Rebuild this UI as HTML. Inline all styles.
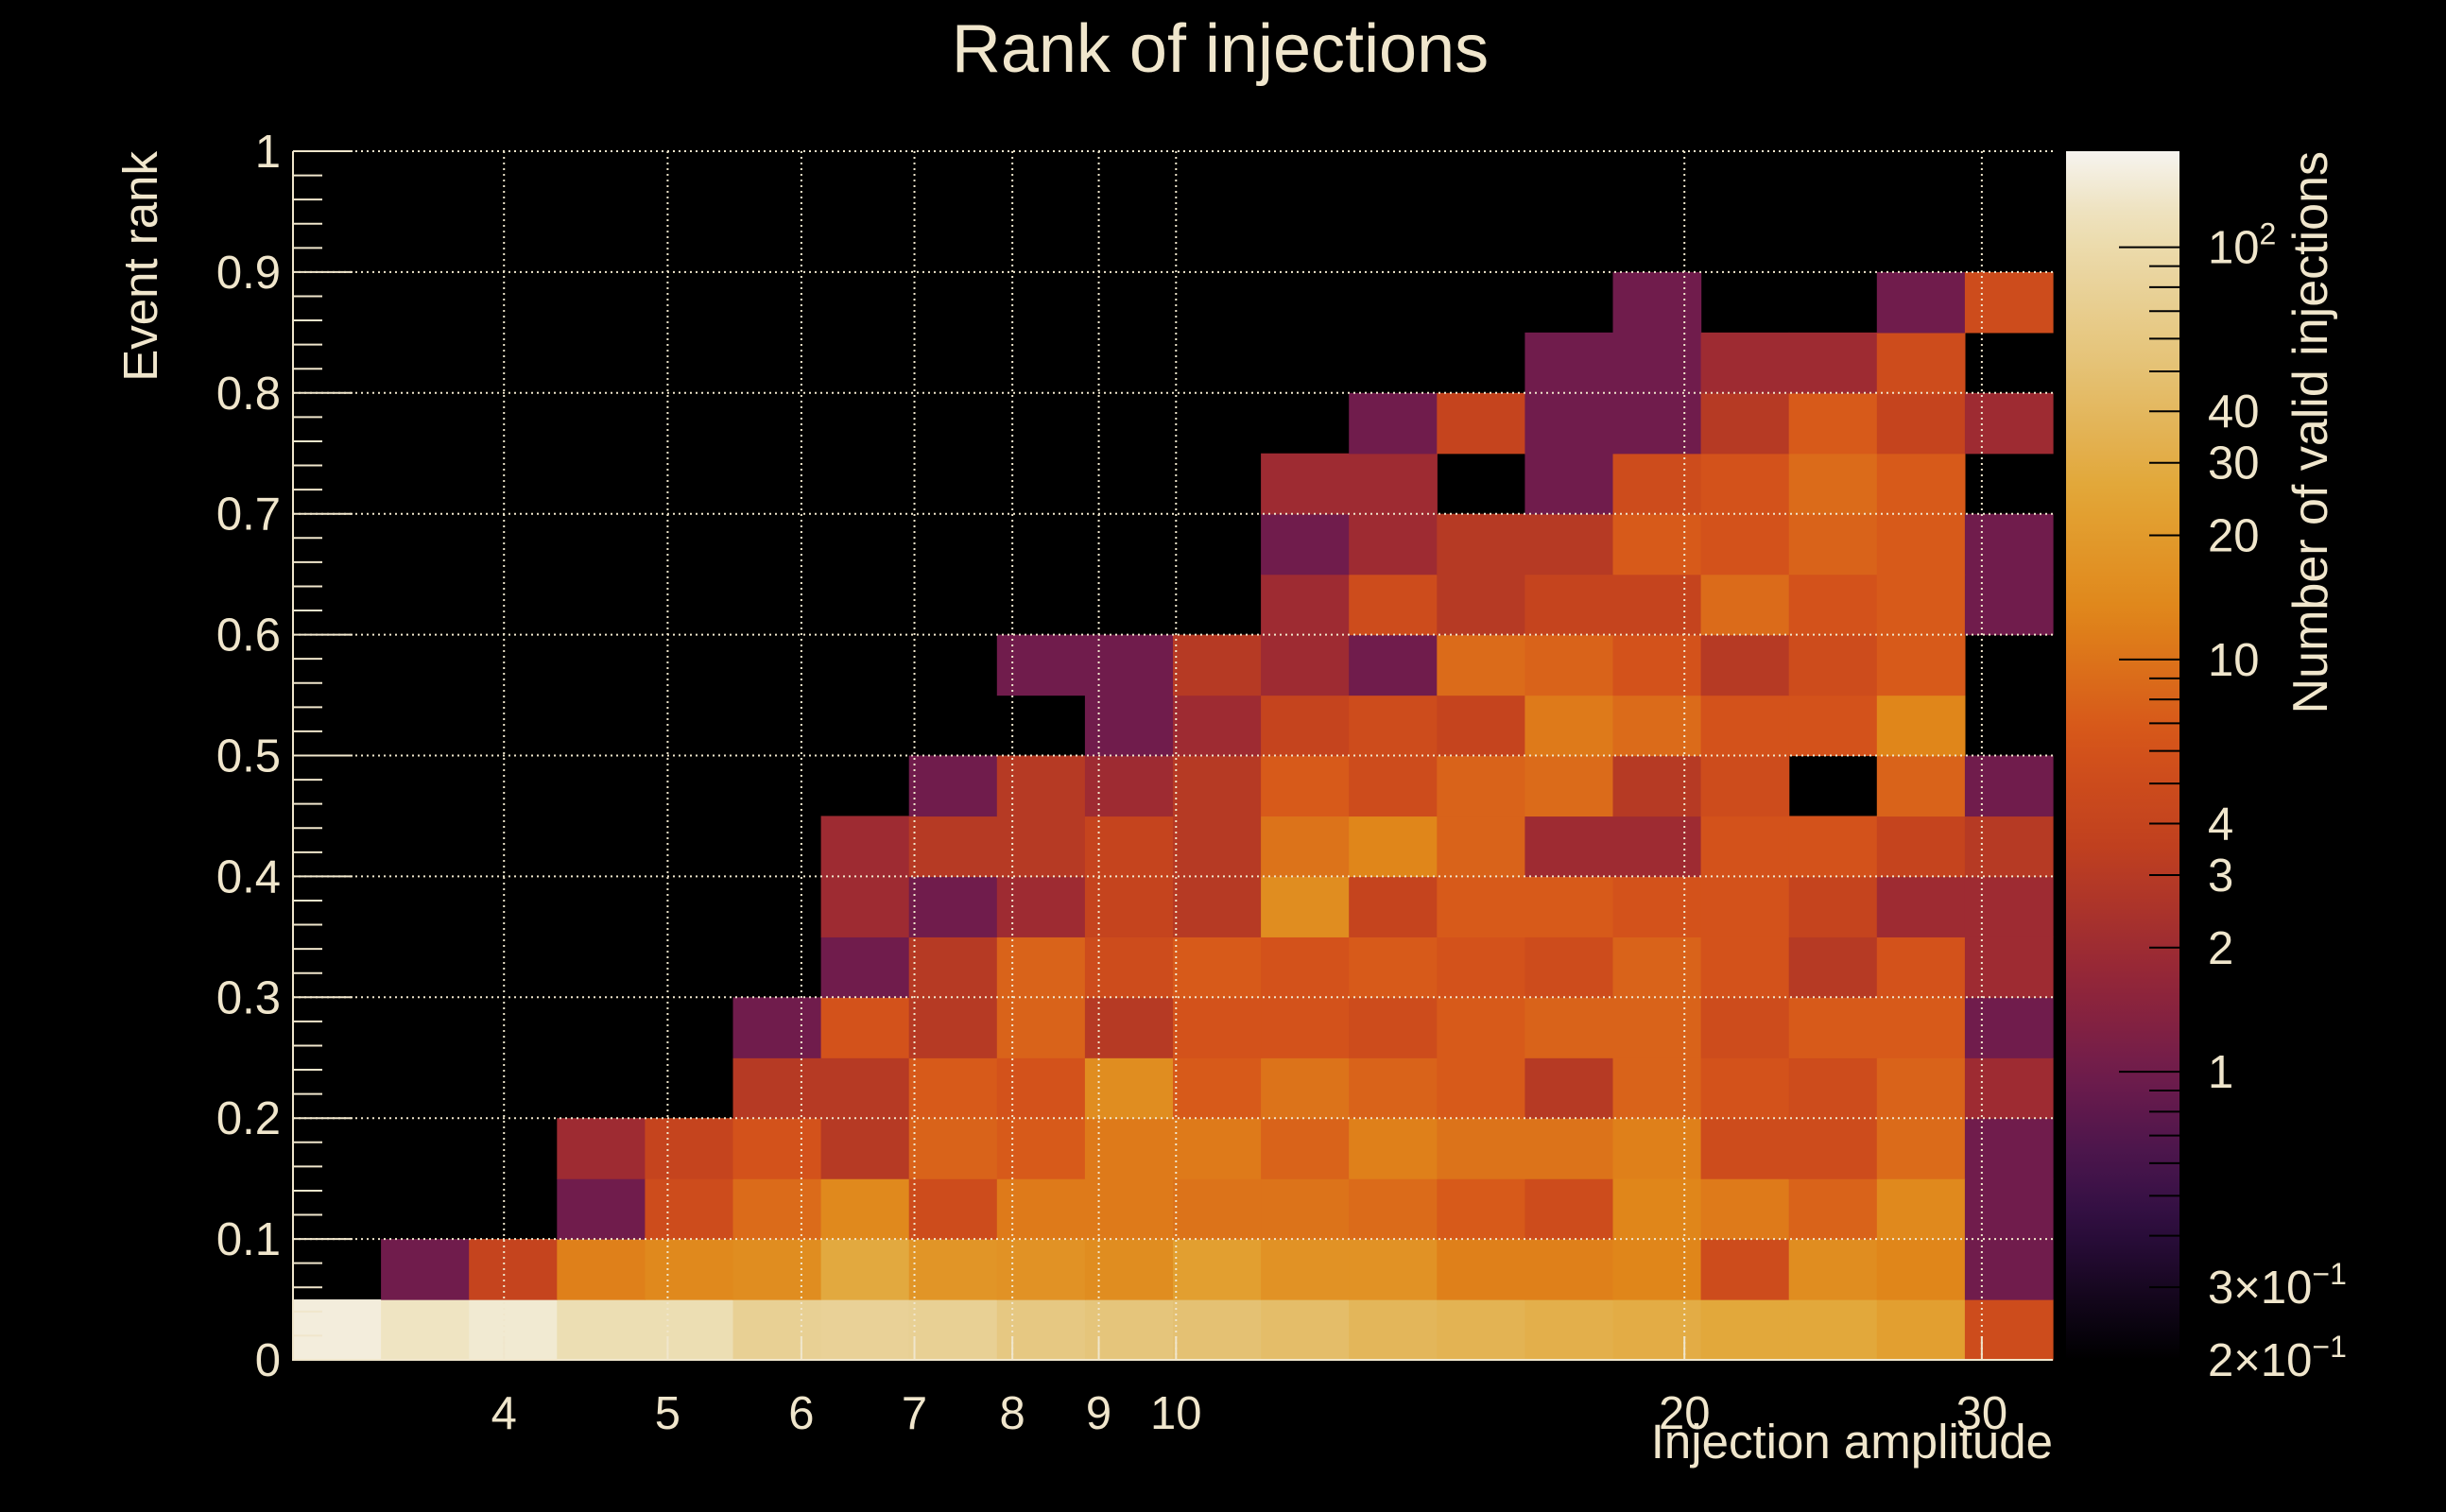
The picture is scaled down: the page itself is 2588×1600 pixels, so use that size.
<!DOCTYPE html>
<html><head><meta charset="utf-8"><title>Rank of injections</title>
<style>html,body{margin:0;padding:0;background:#000;}svg{display:block;}text{font-family:"Liberation Sans",Arial,sans-serif;fill:#f0e6cc;}</style>
</head><body>
<svg id="chart" xmlns="http://www.w3.org/2000/svg" width="2588" height="1600" viewBox="0 0 2588 1600">
<rect x="0" y="0" width="2588" height="1600" fill="#000"/>
<g id="cells"></g>
<g id="grid"></g>
<g id="axes"></g>
<g id="cbar"></g>
<text x="1291" y="76" font-size="72" text-anchor="middle">Rank of injections</text>
<text transform="translate(166,160) rotate(-90)" font-size="51" text-anchor="end">Event rank</text>
<text x="2172" y="1543" font-size="51" text-anchor="end">Injection amplitude</text>
<text transform="translate(2462,160) rotate(-90)" font-size="52" text-anchor="end">Number of valid injections</text>
</svg>
<script>
// ---- data ----
const xMin = 3, xMax = 33.05, nXBins = 20;
const yMin = 0, yMax = 1, nYBins = 20;
const zMin = 0.2, zMax = 171;
const xTickValues = [4,5,6,7,8,9,10,20,30];
const xTickLabels = ["4","5","6","7","8","9","10","20","30"];
const yTickValues = [0,0.1,0.2,0.3,0.4,0.5,0.6,0.7,0.8,0.9,1];
const yTickLabels = ["0","0.1","0.2","0.3","0.4","0.5","0.6","0.7","0.8","0.9","1"];
const zTickValues = [100,40,30,20,10,4,3,2,1,0.3,0.2];
const zTickBases = ["10","40","30","20","10","4","3","2","1","3×10","2×10"];
const zTickExps = ["2","","","","","","","","","−1","−1"];
// counts per rank row (row 0 = rank 0-0.05), 20 amplitude bins each
const row00 = [150,125,140,110,110,75,78,75,60,55,50,45,38,35,32,30,27,27,22,5];
const row01 = [0,1,4,12,14,15,28,18,17,15,22,17,17,12,12,13,5,15,13,1];
const row02 = [0,0,0,1,5,9,14,5,11,11,10,10,9,7,5,13,11,8,14,1];
const row03 = [0,0,0,2,4,6,3,8,7,11,11,8,12,10,10,12,5,5,9,1];
const row04 = [0,0,0,0,0,3,3,7,6,15,7,10,8,7,3,8,6,5,8,2];
const row05 = [0,0,0,0,0,1,6,3,8,3,6,6,5,7,8,8,5,7,7,1];
const row06 = [0,0,0,0,0,0,1,3,8,5,7,6,7,6,5,8,6,3,6,2];
const row07 = [0,0,0,0,0,0,2,1,2,4,3,15,4,7,7,6,6,4,2,2];
const row08 = [0,0,0,0,0,0,2,3,3,4,3,10,13,8,2,2,6,6,4,3];
const row09 = [0,0,0,0,0,0,0,1,3,2,3,7,5,8,9,3,5,0,8,1];
const row10 = [0,0,0,0,0,0,0,0,0,1,2,4,5,4,11,9,6,6,13,0];
const row11 = [0,0,0,0,0,0,0,0,1,1,3,2,1,9,8,6,3,5,7,0];
const row12 = [0,0,0,0,0,0,0,0,0,0,0,2,5,3,4,4,9,6,7,1];
const row13 = [0,0,0,0,0,0,0,0,0,0,0,1,2,3,3,7,6,8,7,1];
const row14 = [0,0,0,0,0,0,0,0,0,0,0,2,2,0,1,5,6,9,7,0];
const row15 = [0,0,0,0,0,0,0,0,0,0,0,0,1,4,1,1,3,7,4,2];
const row16 = [0,0,0,0,0,0,0,0,0,0,0,0,0,0,1,1,2,2,5,0];
const row17 = [0,0,0,0,0,0,0,0,0,0,0,0,0,0,0,1,0,0,1,5];
const row18 = [0,0,0,0,0,0,0,0,0,0,0,0,0,0,0,0,0,0,0,0];
const row19 = [0,0,0,0,0,0,0,0,0,0,0,0,0,0,0,0,0,0,0,0];
const counts = [row00,row01,row02,row03,row04,row05,row06,row07,row08,row09,row10,row11,row12,row13,row14,row15,row16,row17,row18,row19];

// ---- layout ----
const PL = 310, PR = 2172, PT = 160, PB = 1439;
const CBL = 2186, CBR = 2306;
const NS = "http://www.w3.org/2000/svg";
function xPx(v){ return PL + (Math.log10(v) - Math.log10(xMin)) / (Math.log10(xMax) - Math.log10(xMin)) * (PR - PL); }
function yPx(v){ return PB - (v - yMin) / (yMax - yMin) * (PB - PT); }
function zT(z){ return (Math.log(z) - Math.log(zMin)) / (Math.log(zMax) - Math.log(zMin)); }
function zPx(z){ return PB - zT(z) * (PB - PT); }
function xEdge(i){ return Math.exp(Math.log(xMin) + i / nXBins * (Math.log(xMax) - Math.log(xMin))); }
function yEdge(j){ return yMin + j / nYBins * (yMax - yMin); }
const stops = [[0,[0,0,0]],[0.048,[18,6,26]],[0.113,[46,14,64]],[0.165,[72,21,76]],[0.238,[112,28,76]],[0.327,[152,40,53]],[0.425,[192,64,31]],[0.515,[214,84,26]],[0.619,[224,134,26]],[0.716,[226,165,53]],[0.813,[228,192,112]],[0.943,[237,224,184]],[1,[246,244,239]]];
function color(t){
  t = Math.max(0, Math.min(1, t));
  for (let k = 1; k < stops.length; k++) {
    if (t <= stops[k][0]) {
      const a = stops[k-1], b = stops[k], f = (t - a[0]) / (b[0] - a[0]);
      const c = a[1].map((v,i)=>Math.round(v + f*(b[1][i]-v)));
      return "rgb(" + c.join(",") + ")";
    }
  }
  return "rgb(246,244,239)";
}
function mk(tag, attrs, parent){ const e = document.createElementNS(NS, tag); for (const k in attrs) e.setAttribute(k, attrs[k]); parent.appendChild(e); return e; }

// cells
const gC = document.getElementById('cells');
counts.forEach((row, j) => {
  row.forEach((z, i) => {
    if (z <= 0) return;
    const x0 = xPx(xEdge(i)), x1 = xPx(xEdge(i+1));
    const y0 = yPx(yEdge(j+1)), y1 = yPx(yEdge(j));
    const r = mk('rect', {x:x0.toFixed(2), y:y0.toFixed(2), width:(x1-x0+0.6).toFixed(2), height:(y1-y0+0.6).toFixed(2), fill:color(zT(z))}, gC);
    
    
  });
});

// grid
const gG = document.getElementById('grid');
xTickValues.forEach(v => {
  const l = mk('line', {x1:xPx(v), x2:xPx(v), y1:PT, y2:PB, stroke:"#f0e6cc", "stroke-width":2, "stroke-dasharray":"2 4"}, gG);
  
  
});
yTickValues.forEach(v => {
  if (v === 0) return;
  const l = mk('line', {x1:PL, x2:PR, y1:yPx(v), y2:yPx(v), stroke:"#f0e6cc", "stroke-width":2, "stroke-dasharray":"2 4"}, gG);
  
  
});

// axes
const gA = document.getElementById('axes');
let al = mk('line', {x1:PL, x2:PL, y1:PT, y2:PB+1, stroke:"#f0e6cc", "stroke-width":2}, gA);


al = mk('line', {x1:PL, x2:PR, y1:PB, y2:PB, stroke:"#f0e6cc", "stroke-width":2}, gA);


for (let k = 0; k <= 50; k++) {
  const v = k * 0.02, major = (k % 5 === 0);
  const t = mk('line', {x1:PL, x2:PL + (major ? 63 : 31), y1:yPx(v), y2:yPx(v), stroke:"#f0e6cc", "stroke-width":2}, gA);
  
  
}
yTickValues.forEach((v, k) => {
  const t = mk('text', {x:297, y:yPx(v) + 17, "font-size":49, "text-anchor":"end"}, gA);
  t.textContent = yTickLabels[k];
  
  
});
xTickValues.forEach((v, k) => {
  const tk = mk('line', {x1:xPx(v), x2:xPx(v), y1:PB, y2:PB-25, stroke:"#f0e6cc", "stroke-width":2}, gA);
  
  
  const t = mk('text', {x:xPx(v), y:1512, "font-size":49, "text-anchor":"middle"}, gA);
  t.textContent = xTickLabels[k];
  
  
});

// colorbar
const gB = document.getElementById('cbar');
const defs = mk('defs', {}, gB);
const grad = mk('linearGradient', {id:"cbgrad", x1:0, y1:1, x2:0, y2:0}, defs);
for (let k = 0; k <= 40; k++) { const t = k/40; mk('stop', {offset:t, "stop-color":color(t)}, grad); }
const cb = mk('rect', {x:CBL, y:PT, width:CBR-CBL, height:PB-PT, fill:"url(#cbgrad)"}, gB);


[0.1,1,10,100].forEach(dec => {
  for (let m = 1; m <= 9; m++) {
    const z = dec * m;
    if (z < zMin || z > zMax) continue;
    const major = (m === 1);
    const t = mk('line', {x1:CBR - (major ? 64 : 32), x2:CBR, y1:zPx(z), y2:zPx(z), stroke:"#000", "stroke-width":2}, gB);
    
    
  }
});
zTickValues.forEach((z, k) => {
  const t = mk('text', {x:2336, y:zPx(z) + 17, "font-size":49}, gB);
  const b = mk('tspan', {}, t);
  b.textContent = zTickBases[k];
  if (zTickExps[k]) {
    const e = mk('tspan', {dy:-20, "font-size":32}, t);
    e.textContent = zTickExps[k];
  }
  
  
});
</script>
</body></html>
